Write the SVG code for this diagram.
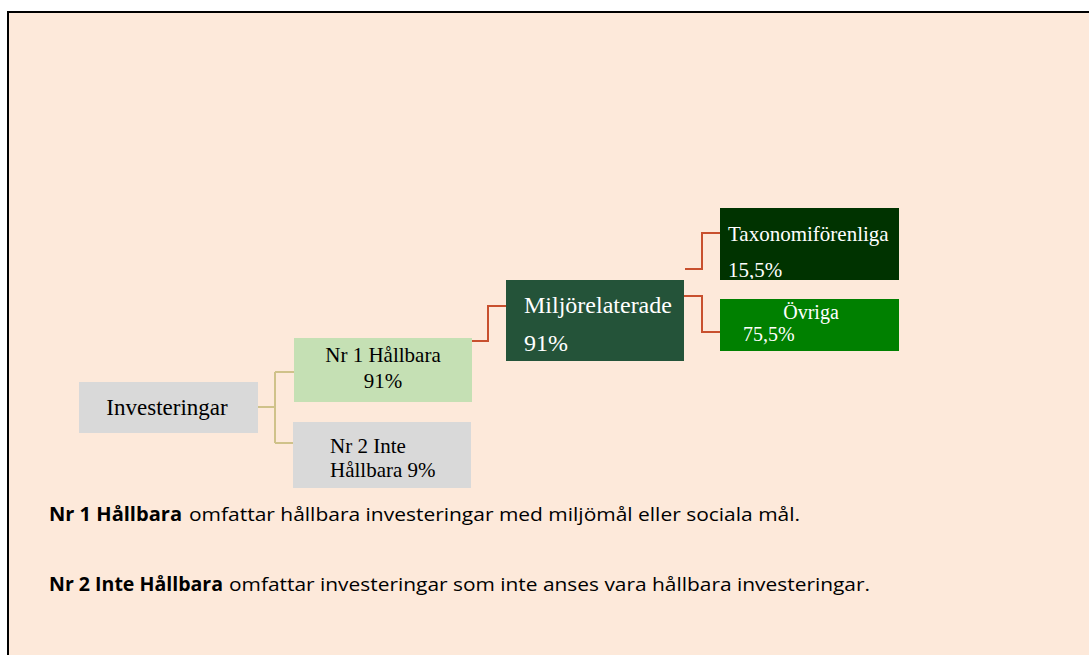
<svg xmlns="http://www.w3.org/2000/svg" width="1089" height="655" viewBox="0 0 1089 655">
<style>
.serif{font-family:"Liberation Serif","Times New Roman",serif}
.sans{font-family:"Open Sans","Liberation Sans",Arial,sans-serif;font-size:19px;fill:#000}
.b{font-weight:bold}
.conY{fill:none;stroke:#CFC28A;stroke-width:2}
.conR{fill:none;stroke:#C8502E;stroke-width:2}
</style>
<rect x="0" y="0" width="1089" height="655" fill="#ffffff"/>
<rect x="8" y="12" width="1100" height="660" fill="#FDE9DA" stroke="#000" stroke-width="2"/>
<g id="connectors">
<path class="conY" d="M258,407 H275 M275,372 V443 M275,372 H294 M275,443 H293"/>
<path class="conR" d="M472,341 H488 V306 H506"/>
<path class="conR" d="M685,269 H702 V233 H720"/>
<path class="conR" d="M684,296 H702 V332 H720"/>
</g>
<g id="investeringar">
<rect x="79" y="382" width="179" height="51" fill="#D9D9D9"/>
<text class="serif" x="167" y="415" font-size="23" text-anchor="middle" fill="#000">Investeringar</text>
</g>
<g id="nr1">
<rect x="294" y="338" width="178" height="64" fill="#C5E0B4"/>
<text class="serif" x="383" y="362" font-size="21" text-anchor="middle" fill="#000">Nr 1 Hållbara</text>
<text class="serif" x="383" y="388" font-size="21" text-anchor="middle" fill="#000">91%</text>
</g>
<g id="nr2">
<rect x="293" y="422" width="178" height="66" fill="#D9D9D9"/>
<text class="serif" x="330" y="453" font-size="21" fill="#000">Nr 2 Inte</text>
<text class="serif" x="330" y="477" font-size="21" fill="#000">Hållbara 9%</text>
</g>
<g id="miljo">
<rect x="506" y="280" width="178" height="81" fill="#245339"/>
<text class="serif" x="524" y="313" font-size="24" fill="#fff">Miljörelaterade</text>
<text class="serif" x="524" y="351" font-size="24" fill="#fff">91%</text>
</g>
<g id="taxonomi">
<rect x="720" y="208" width="179" height="72" fill="#003300"/>
<clipPath id="cpT"><rect x="720" y="208" width="179" height="71"/></clipPath>
<g clip-path="url(#cpT)">
<text class="serif" x="728" y="241" font-size="21" fill="#fff">Taxonomiförenliga</text>
<text class="serif" x="728" y="277" font-size="21" fill="#fff">15,5%</text>
</g>
</g>
<g id="ovriga">
<rect x="720" y="299" width="179" height="52" fill="#008000"/>
<text class="serif" x="811" y="319" font-size="20" text-anchor="middle" fill="#fff">Övriga</text>
<text class="serif" x="743" y="341" font-size="20" fill="#fff">75,5%</text>
</g>
<g id="notes">
<text class="sans b" x="49" y="521" textLength="133" lengthAdjust="spacingAndGlyphs">Nr 1 Hållbara</text>
<text class="sans" x="189" y="521" textLength="611" lengthAdjust="spacingAndGlyphs">omfattar hållbara investeringar med miljömål eller sociala mål.</text>
<text class="sans b" x="49" y="591" textLength="174" lengthAdjust="spacingAndGlyphs">Nr 2 Inte Hållbara</text>
<text class="sans" x="229" y="591" textLength="641" lengthAdjust="spacingAndGlyphs">omfattar investeringar som inte anses vara hållbara investeringar.</text>
</g>
</svg>
